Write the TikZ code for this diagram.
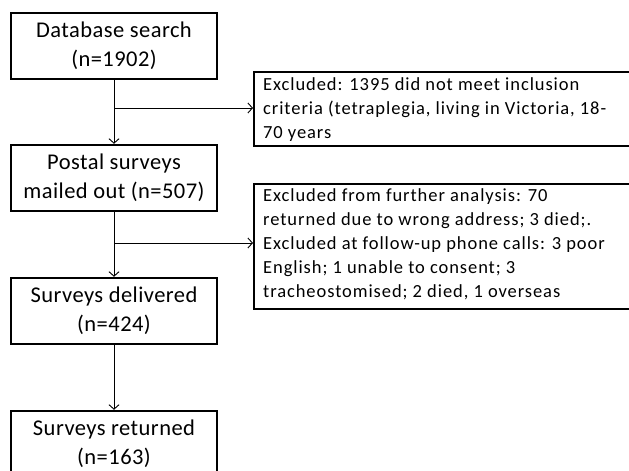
\documentclass[tikz,border=0pt]{standalone}
\usepackage{fontspec}
\setmainfont{Carlito}
\usetikzlibrary{arrows.meta}
\begin{document}
\begin{tikzpicture}[x=1pt,y=-1pt,
  mainbox/.style={draw=black,line width=2.4pt,minimum width=206pt,minimum height=66pt,inner sep=0pt,align=center,font=\fontsize{22.5}{29}\selectfont\addfontfeature{LetterSpace=2}},
  sidebox/.style={draw=black,line width=2.4pt,minimum width=390pt,inner sep=0pt,anchor=north west},
  sidetext/.style={anchor=north west,inner sep=0pt,align=left,font=\fontsize{18.5}{24}\selectfont\addfontfeature{LetterSpace=5}},
  arr/.style={line width=0.9pt,-{Straight Barb[length=4.5pt,width=10pt]}}]
\useasboundingbox (0,0) rectangle (629,471);
\node[mainbox] (db) at (114,46) {Database search\\(n=1902)};
\node[mainbox] (postal) at (114,178) {Postal surveys\\mailed out (n=507)};
\node[mainbox] (deliv) at (114,311) {Surveys delivered\\(n=424)};
\node[mainbox] (ret) at (114,444) {Surveys returned\\(n=163)};
\node[sidebox,minimum height=74pt] (exA) at (253,71) {};
\node[sidebox,minimum height=125pt] (exB) at (253,182.5) {};
\node[sidetext] (txA) at (263,77) {Excluded: 1395 did not meet inclusion\\criteria (tetraplegia, living in Victoria, 18-\\70 years};
\node[sidetext] (txB) at (263,188.5) {Excluded from further analysis: 70\\returned due to wrong address; 3 died;.\\Excluded at follow-up phone calls: 3 poor\\English; 1 unable to consent; 3\\tracheostomised; 2 died, 1 overseas};
\coordinate (b1) at (114,108);
\coordinate (b2) at (114,243);
\draw[arr] (db.south) -- (postal.north);
\draw[arr] (postal.south) -- (deliv.north);
\draw[arr] (deliv.south) -- (ret.north);
\draw[arr] (b1) -- (exA.west |- b1);
\draw[arr] (b2) -- (exB.west |- b2);
\end{tikzpicture}
\end{document}
